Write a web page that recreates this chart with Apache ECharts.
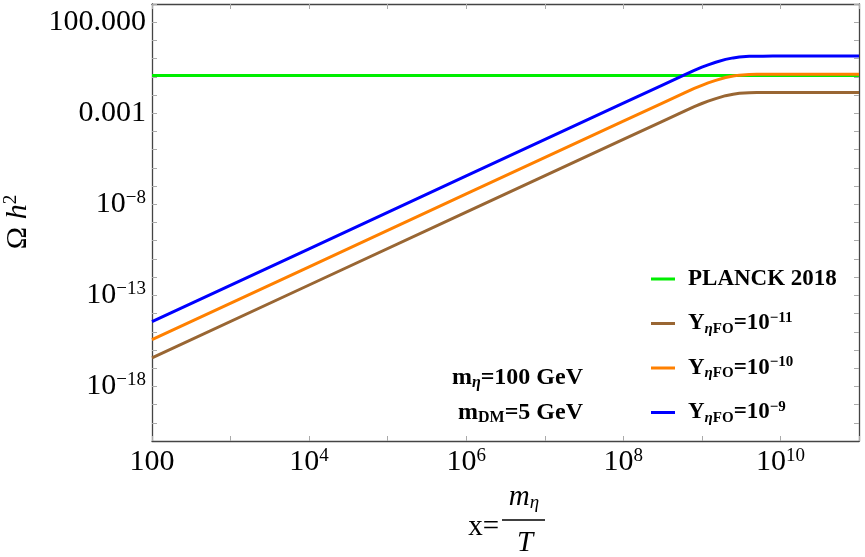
<!DOCTYPE html>
<html><head><meta charset="utf-8">
<script src="https://cdn.jsdelivr.net/npm/echarts@6/dist/echarts.min.js"></script>
<style>html,body{margin:0;padding:0;background:#fff}#c{width:865px;height:557px}</style>
</head><body><div id="c"></div>
<script>
// ---- data ----
const xValues = [1e2, 1e4, 1e6, 1e8, 3e8, 6e8, 8e8, 1e9, 1.2e9, 1.5e9, 2e9, 2.5e9, 3e9, 4e9, 5e9, 6e9, 8e9, 1e10, 1e11];
const yFO9  = [3.6e-15, 3.6e-11, 3.6e-7, 3.6e-3, 0.032, 0.129, 0.229, 0.339, 0.457, 0.631, 0.912, 1.096, 1.23, 1.334, 1.358, 1.371, 1.38, 1.38, 1.38];
const yFO10 = [3.7e-16, 3.7e-12, 3.7e-8, 3.7e-4, 0.0033, 0.0131, 0.0232, 0.0343, 0.0462, 0.0638, 0.0922, 0.111, 0.124, 0.135, 0.137, 0.138, 0.138, 0.138, 0.138];
const yFO11 = [3.7e-17, 3.7e-13, 3.7e-9, 3.7e-5, 3.3e-4, 1.31e-3, 2.32e-3, 3.43e-3, 4.62e-3, 6.38e-3, 9.22e-3, 0.0111, 0.0124, 0.0135, 0.0137, 0.0138, 0.0138, 0.0138, 0.0138];
const planckX = [1e2, 1e11];
const planckY = [0.12, 0.12];
const xTickLabels = {2: '100', 4: '10{s|4}', 6: '10{s|6}', 8: '10{s|8}', 10: '10{s|10}'};
const yTickLabels = {2: '100.000', '-3': '0.001', '-8': '10{s|−8}', '-13': '10{s|−13}', '-18': '10{s|−18}'};
const seriesNames = ['PLANCK 2018', 'Y11', 'Y10', 'Y9'];
const legendLabels = {
  'PLANCK 2018': '{b|PLANCK 2018}',
  'Y11': '{b|Y}{si|η}{sb|FO}{b|=10}{sp|−11}',
  'Y10': '{b|Y}{si|η}{sb|FO}{b|=10}{sp|−10}',
  'Y9':  '{b|Y}{si|η}{sb|FO}{b|=10}{sp|−9}'
};
const colors = {planck: '#00ee00', y11: '#996633', y10: '#ff8000', y9: '#0000ff'};

const FONT = 'Liberation Serif';
const chart = echarts.init(document.getElementById('c'), null, {renderer: 'canvas'});
const zip = (xs, ys) => xs.map((x, i) => [x, ys[i]]);
const expOf = v => Math.round(Math.log10(v));

const tickLabelRich = {s: {fontFamily: FONT, fontSize: 19, lineHeight: 19, verticalAlign: 'top', color: '#000'}};

function logAxis(pos, min, max, labels, withLabels) {
  return {
    type: 'log', logBase: 10, min: min, max: max, interval: 1, position: pos,
    axisLine: {show: true, onZero: false, lineStyle: {color: '#444', width: 1.3}},
    axisTick: {show: true, inside: true, length: 5, lineStyle: {color: '#aaa', width: 1}},
    minorTick: {show: false}, splitLine: {show: false}, minorSplitLine: {show: false},
    axisLabel: withLabels ? {
      show: true, margin: 6, color: '#000', fontFamily: FONT, fontSize: 30, lineHeight: 31,
      formatter: v => { const e = expOf(v); return labels[e] !== undefined ? labels[e] : ''; },
      rich: tickLabelRich, hideOverlap: false
    } : {show: false}
  };
}

const xa0 = logAxis('bottom', 1e2, 1e11, xTickLabels, true);
const xa1 = logAxis('top', 1e2, 1e11, xTickLabels, false);
const ya0 = logAxis('left', 1e-21, 1e3, yTickLabels, true);
const ya1 = logAxis('right', 1e-21, 1e3, yTickLabels, false);

function lineSeries(name, xs, ys, color) {
  return {
    name: name, type: 'line', data: zip(xs, ys), color: color,
    showSymbol: false, symbol: 'none', smooth: false,
    lineStyle: {color: color, width: 3, join: 'round'}, itemStyle: {color: color},
    xAxisIndex: 0, yAxisIndex: 0, animation: false
  };
}

const legendRich = {
  b:  {fontFamily: FONT, fontSize: 23, fontWeight: 'bold', lineHeight: 26, color: '#000'},
  si: {fontFamily: FONT, fontSize: 15, fontWeight: 'bold', fontStyle: 'italic', lineHeight: 15, verticalAlign: 'bottom', color: '#000'},
  sb: {fontFamily: FONT, fontSize: 15, fontWeight: 'bold', lineHeight: 15, verticalAlign: 'bottom', color: '#000'},
  sp: {fontFamily: FONT, fontSize: 15, fontWeight: 'bold', lineHeight: 15, verticalAlign: 'top', color: '#000'}
};

const annRich = {
  b:  {fontFamily: FONT, fontSize: 24, fontWeight: 'bold', lineHeight: 26, color: '#000'},
  si: {fontFamily: FONT, fontSize: 16, fontWeight: 'bold', fontStyle: 'italic', lineHeight: 15, verticalAlign: 'bottom', color: '#000'},
  sb: {fontFamily: FONT, fontSize: 16, fontWeight: 'bold', lineHeight: 15, verticalAlign: 'bottom', color: '#000'}
};

const option = {
  animation: false,
  backgroundColor: '#fff',
  grid: {left: 152, right: 6, top: 4, bottom: 116, containLabel: false, outerBoundsMode: 'none'},
  xAxis: [xa0, xa1],
  yAxis: [ya0, ya1],
  legend: {
    orient: 'vertical', left: 646, top: 261, itemWidth: 32, itemHeight: 3, itemGap: 18.5,
    icon: 'path://M0,0H24V3H0Z M32,0L32,3',
    itemStyle: {borderWidth: 0},
    data: seriesNames,
    formatter: n => legendLabels[n],
    textStyle: {fontFamily: FONT, fontSize: 23, fontWeight: 'bold', color: '#000', lineHeight: 26, rich: legendRich},
    selectedMode: false
  },
  series: [
    lineSeries(seriesNames[0], planckX, planckY, colors.planck),
    lineSeries(seriesNames[1], xValues, yFO11, colors.y11),
    lineSeries(seriesNames[2], xValues, yFO10, colors.y10),
    lineSeries(seriesNames[3], xValues, yFO9, colors.y9)
  ],
  graphic: [
    {type: 'text', x: 18, y: 222, rotation: Math.PI / 2,
      style: {text: '{a|Ω }{i|h}{s|2}', align: 'center', verticalAlign: 'middle',
        rich: {
          a: {fontFamily: FONT, fontSize: 30, lineHeight: 32, color: '#000'},
          i: {fontFamily: FONT, fontSize: 30, lineHeight: 32, fontStyle: 'italic', color: '#000'},
          s: {fontFamily: FONT, fontSize: 19, lineHeight: 19, verticalAlign: 'top', color: '#000'}
        }}},
    {type: 'text', x: 583, y: 378, style: {text: '{b|m}{si|η}{b|=100 GeV}', rich: annRich, align: 'right', verticalAlign: 'middle'}},
    {type: 'text', x: 583, y: 413, style: {text: '{b|m}{sb|DM}{b|=5 GeV}', rich: annRich, align: 'right', verticalAlign: 'middle'}},
    {type: 'text', x: 499, y: 527, style: {text: 'x=', font: '29px "Liberation Serif"', fill: '#000', align: 'right', verticalAlign: 'middle'}},
    {type: 'text', x: 524, y: 497, style: {text: '{i|m}{s|η}', align: 'center', verticalAlign: 'middle',
      rich: {i: {fontFamily: FONT, fontSize: 29, fontStyle: 'italic', lineHeight: 30, color: '#000'},
             s: {fontFamily: FONT, fontSize: 19, fontStyle: 'italic', lineHeight: 19, verticalAlign: 'bottom', color: '#000'}}}},
    {type: 'line', shape: {x1: 502, y1: 520, x2: 545, y2: 520}, style: {stroke: '#000', lineWidth: 1.5}},
    {type: 'text', x: 525, y: 543, style: {text: 'T', font: 'italic 29px "Liberation Serif"', fill: '#000', align: 'center', verticalAlign: 'middle'}}
  ]
};
chart.setOption(option);
</script>
</body></html>
